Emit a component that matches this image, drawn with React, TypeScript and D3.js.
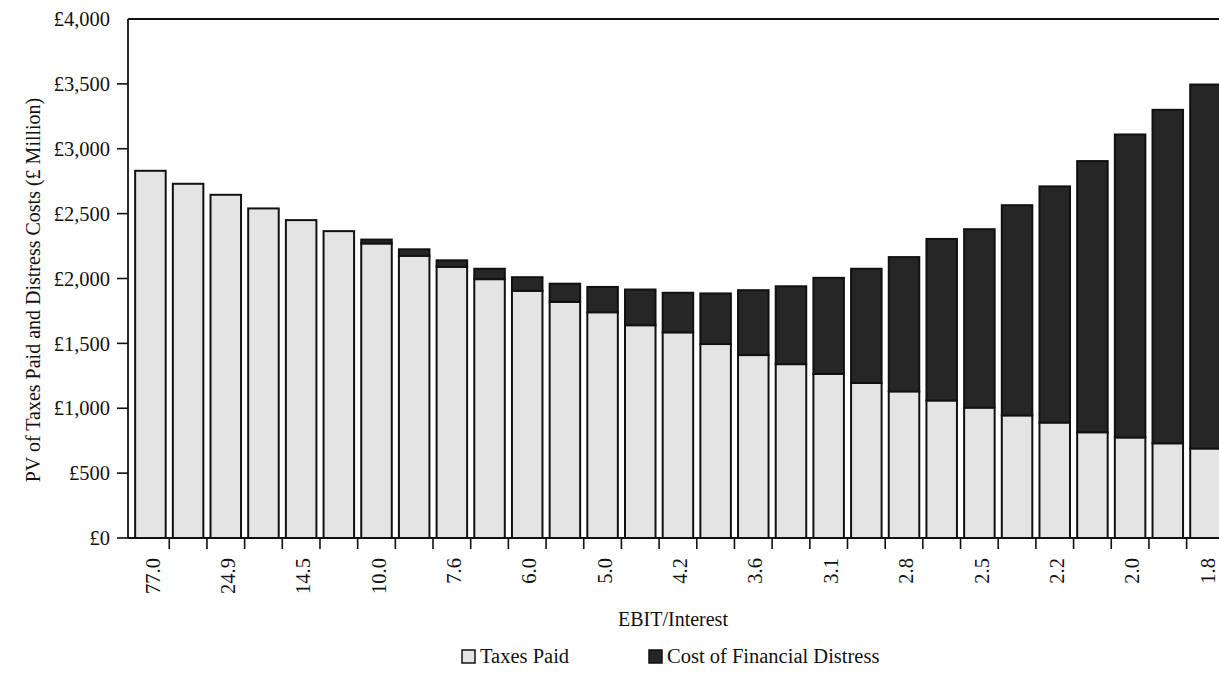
import React from "react";
import * as d3 from "d3";

const tickLabels = ["77.0", "24.9", "14.5", "10.0", "7.6", "6.0", "5.0", "4.2", "3.6", "3.1", "2.8", "2.5", "2.2", "2.0", "1.8"];

const taxesPaid = [
  2830, 2730, 2645, 2540, 2450, 2365, 2270, 2175, 2090, 1995,
  1905, 1820, 1740, 1640, 1585, 1495, 1410, 1340, 1265, 1195,
  1130, 1060, 1005, 945, 890, 815, 775, 730, 690,
];

const distressCost = [
  0, 0, 0, 0, 0, 0, 30, 50, 50, 80,
  105, 140, 195, 275, 305, 390, 500, 600, 740, 880,
  1035, 1245, 1375, 1620, 1820, 2090, 2335, 2570, 2805,
];

const yTicks = [0, 500, 1000, 1500, 2000, 2500, 3000, 3500, 4000];

const seriesKeys = ["taxes", "distress"];
const seriesNames = ["Taxes Paid", "Cost of Financial Distress"];
const seriesColors = ["#e4e4e4", "#262626"];

const W = 1219;
const H = 676;
const FONT = "'Liberation Serif', 'Times New Roman', serif";

export default function App() {
  const left = 128;
  const top = 19;
  const bottom = 538;

  const rows = taxesPaid.map((t, i) => ({ idx: i, taxes: t, distress: distressCost[i] }));
  const stacked = d3.stack<any>().keys(seriesKeys)(rows);

  const step = 37.68;
  const pad = 0.19;
  const total = step * (rows.length - pad + 2 * pad);
  const x = d3
    .scaleBand<number>()
    .domain(rows.map((r) => r.idx))
    .range([left, left + total])
    .paddingInner(pad)
    .paddingOuter(pad);

  const y = d3.scaleLinear().domain([0, 4000]).range([bottom, top]);
  const fmt = (v: number) => "£" + d3.format(",")(v);

  const boundaries = rows.slice(0, -1).map((r) => (x(r.idx)! + x.bandwidth() + x(r.idx + 1)!) / 2);

  return (
    <svg
      width={W}
      height={H}
      style={{ position: "absolute", left: 0, top: 0, background: "#fff" }}
      fontFamily={FONT}
    >
      <rect x={0} y={0} width={W} height={H} fill="#fff" />
      {/* bars */}
      {stacked.map((s, si) => (
        <g key={s.key}>
          {s.map((d: any, i: number) =>
            d[1] - d[0] > 0 ? (
              <rect
                key={i}
                x={x(rows[i].idx)}
                y={y(d[1])}
                width={x.bandwidth()}
                height={y(d[0]) - y(d[1])}
                fill={seriesColors[si]}
                stroke="#111"
                strokeWidth={2}
              />
            ) : null
          )}
        </g>
      ))}
      {/* frame */}
      <line x1={left} x2={W} y1={top} y2={top} stroke="#111" strokeWidth={1.8} />
      <line x1={left} x2={left} y1={top} y2={bottom} stroke="#111" strokeWidth={1.8} />
      <line x1={left} x2={W} y1={bottom} y2={bottom} stroke="#111" strokeWidth={1.8} />
      {/* y ticks */}
      {yTicks.map((t) => (
        <g key={t} transform={`translate(0,${y(t)})`}>
          {t < 4000 && <line x1={left - 11} x2={left} stroke="#111" strokeWidth={1.6} />}
          <text x={left - 18} dy="0.35em" textAnchor="end" fontSize={20.5} fill="#111">
            {fmt(t)}
          </text>
        </g>
      ))}
      {/* x ticks at bar boundaries */}
      {boundaries.map((bx, i) => (
        <line key={i} x1={bx} x2={bx} y1={bottom} y2={bottom + 11} stroke="#111" strokeWidth={1.6} />
      ))}
      {/* x labels on every other bar */}
      {tickLabels.map((lab, i) => {
        const cx = x(rows[i * 2].idx)! + x.bandwidth() / 2 + 2;
        return (
          <text
            key={lab}
            transform={`translate(${cx},${bottom + 20}) rotate(-90)`}
            textAnchor="end"
            dy="0.35em"
            fontSize={20.5}
            fill="#111"
          >
            {lab}
          </text>
        );
      })}
      {/* axis titles */}
      <text x={618} y={626} textAnchor="start" fontSize={20} fill="#111">
        EBIT/Interest
      </text>
      <text
        transform={`translate(40,290) rotate(-90)`}
        textAnchor="middle"
        fontSize={20}
        fill="#111"
      >
        PV of Taxes Paid and Distress Costs (£ Million)
      </text>
      {/* legend */}
      {seriesNames.map((name, i) => {
        const lx = i === 0 ? 462 : 649;
        return (
          <g key={name}>
            <rect x={lx} y={650} width={13} height={13} fill={seriesColors[i]} stroke="#111" strokeWidth={1.5} />
            <text x={lx + 18} y={663} fontSize={20.5} fill="#111">
              {name}
            </text>
          </g>
        );
      })}
    </svg>
  );
}
